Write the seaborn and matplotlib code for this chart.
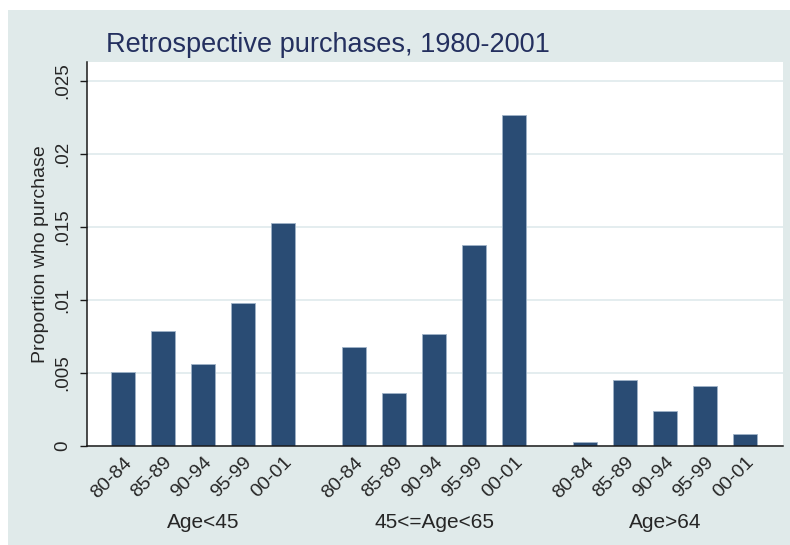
import pandas as pd
import matplotlib
matplotlib.use("Agg")
import matplotlib.pyplot as plt
from matplotlib.patches import Rectangle
from matplotlib.transforms import ScaledTranslation
import seaborn as sns

# =============================================================================
# Data (proportion who purchase, by age group and period)
# =============================================================================
periods = ["80-84", "85-89", "90-94", "95-99", "00-01"]
groups = ["Age<45", "45<=Age<65", "Age>64"]
age_under45 = [0.0051, 0.0079, 0.0056, 0.0098, 0.0153]
age_45_65 = [0.0068, 0.0036, 0.0077, 0.0138, 0.0227]
age_over64 = [0.0003, 0.0045, 0.0024, 0.0041, 0.0008]
yticks = [0, 0.005, 0.01, 0.015, 0.02, 0.025]
ytick_labels = ["0", ".005", ".01", ".015", ".02", ".025"]

## Build long table, bars placed with a gap between age groups
group_step = len(periods) + 0.775
rows = []
for g, (name, vals) in enumerate(zip(groups, [age_under45, age_45_65, age_over64])):
    for i, (per, v) in enumerate(zip(periods, vals)):
        rows.append({"group": name, "period": per, "pos": g * group_step + i, "value": v})
df = pd.DataFrame(rows)

# =============================================================================
# Plot
# =============================================================================
sns.set_theme(style="white")
plt.rcParams["font.family"] = ["Liberation Sans", "DejaVu Sans"]

bg = "#e0eaea"
bar_color = "#2a4c74"

fig = plt.figure(figsize=(7.9, 5.45), dpi=100, facecolor="white")
fig.add_artist(Rectangle((8 / 790, 0), 1, (545 - 10) / 545, transform=fig.transFigure,
                         facecolor=bg, edgecolor="none", zorder=-1))
ax = fig.add_axes([87 / 790, 99 / 545, 696 / 790, 384 / 545])
ax.set_facecolor("white")

sns.barplot(data=df, x="pos", y="value", native_scale=True, width=0.61,
            color=bar_color, saturation=1, edgecolor="#9fb3c8", linewidth=0.6,
            errorbar=None, ax=ax)

ax.set_xlim(-0.9, 2 * group_step + len(periods) - 1 + 0.95)
ax.set_ylim(0, 0.0263)

## Axes styling
for side in ["top", "right"]:
    ax.spines[side].set_visible(False)
for side in ["left", "bottom"]:
    ax.spines[side].set_color("#1a1a1a")
    ax.spines[side].set_linewidth(1.1)
ax.set_axisbelow(True)
ax.yaxis.grid(True, color="#e2ecee", linewidth=1.3)

ax.set_yticks(yticks)
ax.set_yticklabels(ytick_labels, rotation=90, va="center", fontsize=13.5)
ax.tick_params(axis="y", length=5, width=1, color="#1a1a1a", pad=6, left=True)

ax.set_xticks(df["pos"])
ax.set_xticklabels(df["period"], rotation=45, ha="right", va="center",
                   rotation_mode="anchor", fontsize=14)
ax.tick_params(axis="x", length=0, pad=10)
shift = ScaledTranslation(6 / 100, 0, fig.dpi_scale_trans)
for lab in ax.get_xticklabels():
    lab.set_transform(lab.get_transform() + shift)

ax.set_xlabel("")
ax.set_ylabel("Proportion who purchase", fontsize=14)
ax.yaxis.set_label_coords(-0.055, 0.5)

## Group labels under each block of bars
for name in groups:
    center = df.loc[df["group"] == name, "pos"].mean()
    ax.text(center, -0.198, name, transform=ax.get_xaxis_transform(),
            ha="center", va="center", fontsize=15)

## Title
ax.text(0.027, 1 + 17 / 384, "Retrospective purchases, 1980-2001", transform=ax.transAxes,
        ha="left", va="center", fontsize=19.5, color="#24305f")

fig.savefig("out.png", dpi=100)
